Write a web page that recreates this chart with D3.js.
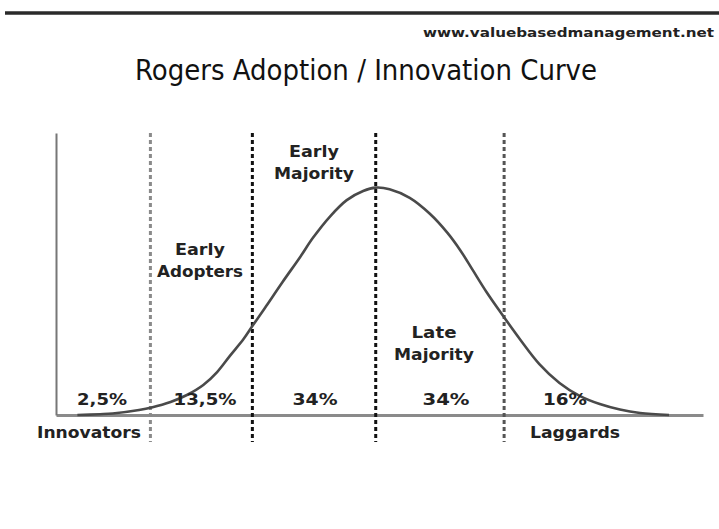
<!DOCTYPE html>
<html>
<head>
<meta charset="utf-8">
<script src="https://cdn.jsdelivr.net/npm/d3@7"></script>
<style>
  body { margin: 0; background: #fff; }
  text { font-family: "DejaVu Sans", Verdana, sans-serif; fill: #222; }
</style>
</head>
<body>
<script>
// Curve: x in std-dev units, y as % of peak height
curveX = [-2.37, -2.19, -2.09, -1.88, -1.78, -1.63, -1.50, -1.37, -1.26, -1.16, -1.05, -0.98,
          -0.87, -0.74, -0.60, -0.50, -0.36, -0.23, -0.10, 0, 0.11, 0.27, 0.43, 0.57,
          0.67, 0.77, 0.88, 0.99, 1.15, 1.30, 1.46, 1.62, 1.78, 1.94, 2.10, 2.33];
curveY = [0, 0.35, 0.66, 2.2, 3.3, 5.7, 8.8, 13.2, 18.9, 25.9, 33.4, 39.1,
          47.9, 58.5, 69.5, 77.8, 87.5, 94.5, 98.5, 100, 99.3, 95.5, 88.5, 80.1,
          72.6, 63.8, 54.1, 45.3, 33.0, 22.4, 14.1, 8.4, 4.8, 2.4, 0.9, 0];

// Segment boundaries (dashed lines)
boundaries = [-1.79, -0.98, 0, 1.02];
boundaryColors = ["#8a8a8a", "#111", "#111", "#555"];

// Shares per segment
shares = ["2,5%", "13,5%", "34%", "34%", "16%"];
groupNames = ["Innovators", "Early Adopters", "Early Majority", "Late Majority", "Laggards"];

title = "Rogers Adoption / Innovation Curve";
site = "www.valuebasedmanagement.net";

width = 719; height = 529;

svg = d3.select("body").append("svg")
    .attr("width", width)
    .attr("height", height);

x = d3.scaleLinear().domain([-2.54, 2.6]).range([56, 703]);
y = d3.scaleLinear().domain([0, 124]).range([415, 133]);

// top rule
svg.append("line")
   .attr("x1", 5).attr("x2", 719)
   .attr("y1", 13).attr("y2", 13)
   .attr("stroke", "#2a2a2a")
   .attr("stroke-width", 3.5);

// site + title
svg.append("text")
   .attr("x", 423).attr("y", 37)
   .attr("textLength", 291)
   .attr("lengthAdjust", "spacingAndGlyphs")
   .style("font-size", "12px")
   .style("font-weight", "bold")
   .text(site);

svg.append("text")
   .attr("x", 135).attr("y", 80)
   .attr("textLength", 462)
   .attr("lengthAdjust", "spacingAndGlyphs")
   .style("font-size", "28px")
   .style("font-stretch", "condensed")
   .style("fill", "#111")
   .text(title);

// axes (plain lines, no ticks)
svg.append("g")
   .attr("transform", `translate(0,${y(0)})`)
   .call(d3.axisBottom(x).tickValues([]).tickSizeOuter(0))
   .select(".domain")
   .attr("stroke", "#8a8a8a")
   .attr("stroke-width", 3);

svg.append("g")
   .attr("transform", `translate(${x.range()[0]},0)`)
   .call(d3.axisLeft(y).tickValues([]).tickSizeOuter(0))
   .select(".domain")
   .attr("stroke", "#777")
   .attr("stroke-width", 2);

// dashed segment boundaries
svg.selectAll(".bound")
   .data(boundaries)
   .join("line")
   .attr("class", "bound")
   .attr("x1", d => x(d)).attr("x2", d => x(d))
   .attr("y1", y(124)).attr("y2", y(0) + 27)
   .attr("stroke", (d, i) => boundaryColors[i])
   .attr("stroke-width", 3)
   .attr("stroke-dasharray", "4,3");

// the curve
line = d3.line()
    .x(d => x(d[0]))
    .y(d => y(d[1]))
    .curve(d3.curveCatmullRom);

svg.append("path")
   .datum(curveX.map((v, i) => [v, curveY[i]]))
   .attr("fill", "none")
   .attr("stroke", "#4a4a4a")
   .attr("stroke-width", 2.6)
   .attr("d", line);

// percentages
pctPos = [102, 205, 315, 446, 565];
pctLen = [50, 63, 45, 47, 44];
svg.selectAll(".pct")
   .data(shares)
   .join("text")
   .attr("class", "pct")
   .attr("x", (d, i) => pctPos[i] - pctLen[i] / 2)
   .attr("y", 405)
   .attr("textLength", (d, i) => pctLen[i])
   .attr("lengthAdjust", "spacingAndGlyphs")
   .style("font-size", "15px")
   .style("font-weight", "bold")
   .text(d => d);

// group labels, one or two lines each
labelLayout = [
  {cx: 89,  y: 438, len: [104]},
  {cx: 200, y: 255, len: [50, 86]},
  {cx: 314, y: 157, len: [50, 80]},
  {cx: 434, y: 338, len: [45, 80]},
  {cx: 575, y: 438, len: [90]}
];
groupNames.forEach(function(name, i) {
    L = labelLayout[i];
    parts = L.len.length == 1 ? [name] : name.split(" ");
    parts.forEach(function(p, j) {
        svg.append("text")
           .attr("x", L.cx - L.len[j] / 2)
           .attr("y", L.y + j * 22)
           .attr("textLength", L.len[j])
           .attr("lengthAdjust", "spacingAndGlyphs")
           .style("font-size", "15px")
           .style("font-weight", "bold")
           .text(p);
    });
});
</script>
</body>
</html>
